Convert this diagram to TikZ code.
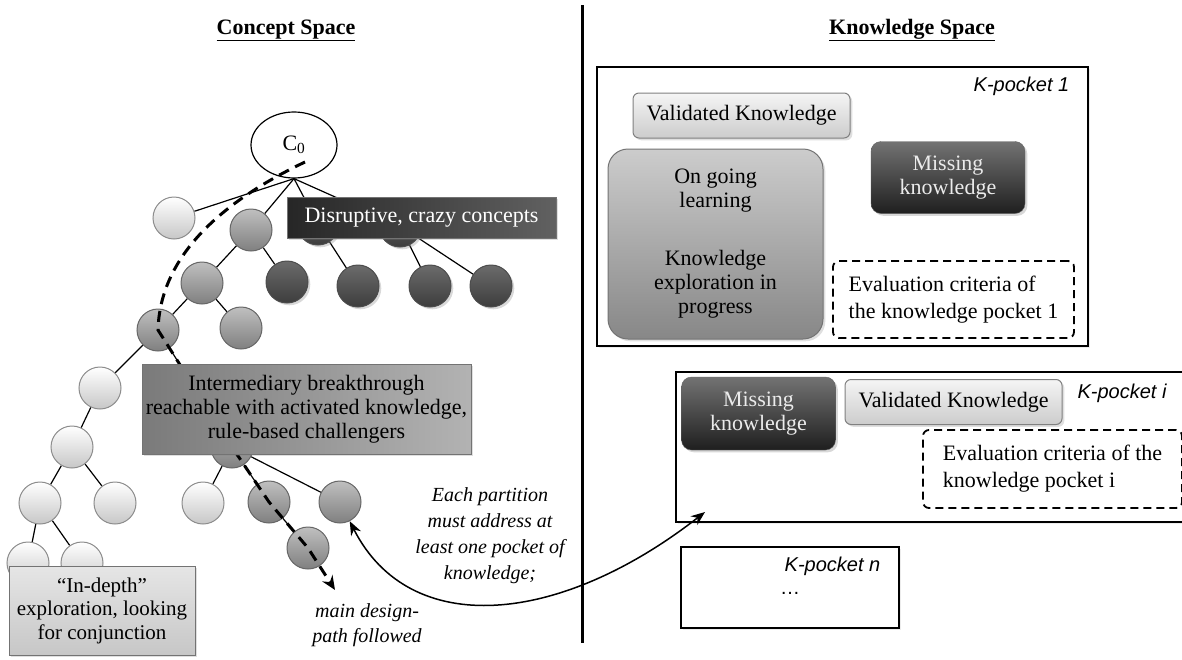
\documentclass[tikz,border=0pt]{standalone}
\usepackage{fontspec}
\setmainfont{Liberation Serif}
\newfontfamily\kfont{Liberation Sans}
\usetikzlibrary{arrows.meta,shapes.geometric,shadows,backgrounds,positioning}

\begin{document}
\begin{tikzpicture}
  [x=1pt, y=-1pt,
  every node/.style={font=\fontsize{22}{24}\selectfont},
  concept/.style={circle, line width=1pt, minimum size=42pt, inner sep=0pt},
  lightc/.style={concept, draw=black!45, top color=white, bottom color=black!22},
  grayc/.style={concept, draw=black!60, top color=black!25, bottom color=black!50},
  darkc/.style={concept, draw=black!70, top color=black!58, bottom color=black!76,
    drop shadow={opacity=0.3}},
  treeline/.style={draw, line width=1.2pt},
  mainpath/.style={draw, line width=3pt, dash pattern=on 11pt off 7pt,
    -{Stealth[length=14pt,width=12pt]}},
  note/.style={rectangle, draw=black!55, line width=1pt, align=center,
    inner xsep=3pt, drop shadow={opacity=0.25}},
  pocket/.style={rectangle, draw=black, line width=1.6pt, fill=white,
    drop shadow={opacity=0.15}},
  pocketname/.style={font=\kfont\itshape\fontsize{20}{24}\selectfont, anchor=east},
  known/.style={rectangle, rounded corners=6pt, draw=black!50, line width=1pt,
    top color=black!4, bottom color=black!20, minimum width=217pt,
    minimum height=45pt, drop shadow={opacity=0.25}},
  missing/.style={rectangle, rounded corners=10pt, draw=black!60,
    top color=black!55, bottom color=black!88, text=black!8, align=center,
    minimum width=154pt, minimum height=72pt, drop shadow={opacity=0.3}},
  criteria/.style={rectangle, rounded corners=6pt, draw, line width=1.8pt,
    dash pattern=on 8pt off 5pt, fill=white, align=left,
    font=\fontsize{22}{27}\selectfont},
  remark/.style={align=center, font=\itshape\fontsize{20}{26}\selectfont}]
  \useasboundingbox (0,0) rectangle (1182,659);

  % headings and divider
  \node[font=\bfseries\fontsize{22}{24}\selectfont, anchor=base] (cspace) at (286,34)
  {\underline{Concept Space}};
  \node[font=\bfseries\fontsize{22}{24}\selectfont, anchor=base] (kspace) at (912,34)
  {\underline{Knowledge Space}};
  \coordinate (divtop) at (582,5);
  \coordinate (divbot) at (582,643);
  \draw[line width=3pt] (divtop) -- (divbot);

  % concept tree
  \node[ellipse, draw, line width=1.2pt, fill=white, minimum width=86pt,
  minimum height=66pt] (c0) at (294,145) {C\textsubscript{0}};
  \node[lightc] (l1) at (174,218) {};
  \node[grayc] (g1) at (251,230) {};
  \node[darkc] (d1) at (318,224) {};
  \node[darkc] (d2) at (400,226) {};
  \node[grayc] (g2) at (202,283) {};
  \node[darkc] (d3) at (287,282) {};
  \node[darkc] (d4) at (358,286) {};
  \node[darkc] (d5) at (430,286) {};
  \node[darkc] (d6) at (491,286) {};
  \node[grayc] (g3) at (158,330) {};
  \node[grayc] (g4) at (241,328) {};
  \node[lightc] (l2) at (100,388) {};
  \node[grayc] (g5) at (232,447) {};
  \node[lightc] (l3) at (72,447) {};
  \node[lightc] (l4) at (40,503) {};
  \node[lightc] (l5) at (115,503) {};
  \node[lightc] (l6) at (28,563) {};
  \node[lightc] (l7) at (82,563) {};
  \node[lightc] (l8) at (203,503) {};
  \node[grayc] (g6) at (269,502) {};
  \node[grayc] (g7) at (340,502) {};
  \node[grayc] (g8) at (308,548) {};

  \begin{pgfonlayer}{background}
    \begin{scope}[every path/.style=treeline]
      \path (c0.south) -- (l1); \path (c0.south) -- (g1);
      \path (c0.south) -- (d1); \path (c0.south) -- (d2);
      \path (g1) -- (g2); \path (g1) -- (d3); \path (d1) -- (d4);
      \path (d2) -- (d5); \path (d2) -- (d6);
      \path (g2) -- (g3); \path (g2) -- (g4);
      \path (g3) -- (l2); \path (g3) -- (g5);
      \path (l2) -- (l3); \path (l3) -- (l4); \path (l3) -- (l5);
      \path (l4) -- (l6); \path (l4) -- (l7);
      \path (g5) -- (l8); \path (g5) -- (g6); \path (g5) -- (g7);
      \path (g6) -- (g8);
    \end{scope}
  \end{pgfonlayer}

  \coordinate (pathstart) at (305,162);
  \coordinate (pathend) at (335,590);
  \path[mainpath] (pathstart) .. controls (215,205) and (160,260) .. (g3.center)
  -- (g5.center) -- (g6.center) -- (g8.center) -- (pathend);

  \node[note, left color=black!85, right color=black!62, text=white,
  minimum width=269pt, minimum height=41pt] (disrupt) at (421.5,217.5)
  {Disruptive, crazy concepts};
  \node[note, left color=black!52, right color=black!30, minimum width=329pt,
  minimum height=90pt] (inter) at (306.5,409)
  {Intermediary breakthrough\\reachable with activated knowledge,\\rule-based challengers};
  \node[note, top color=black!10, bottom color=black!22, minimum width=186pt,
  minimum height=89pt, inner xsep=2pt, font=\fontsize{21}{23.5}\selectfont]
  (depth) at (102,610.5) {“In-depth”\\exploration, looking\\for conjunction};

  % knowledge pockets
  \node[pocket, minimum width=491pt, minimum height=279pt] (kp1) at (842.5,206.5) {};
  \node[pocketname] at ([xshift=-16pt, yshift=-20pt]kp1.north east) {K-pocket 1};
  \node[known] (valid1) at (741.5,115.5) {Validated Knowledge};
  \node[rectangle, rounded corners=20pt, draw=black!55, line width=1pt,
  top color=black!20, bottom color=black!47, align=center, minimum width=215pt,
  minimum height=190pt, drop shadow={opacity=0.25}] (learn1) at (715.5,244)
  {On going\\learning\\[34pt]Knowledge\\exploration in\\progress};
  \node[missing] (miss1) at (948,177.5) {Missing\\knowledge};
  \node[criteria, minimum width=241pt, minimum height=77pt] (crit1) at (953.5,299.5)
  {Evaluation criteria of\\the knowledge pocket 1};

  \node[pocket, anchor=north west, minimum width=520pt, minimum height=150pt]
  (kpi) at (675,371) {};
  \node[pocketname] at (1170,393) {K-pocket i};
  \node[missing, minimum height=73pt] (miss2) at (758.5,413.5) {Missing\\knowledge};
  \node[known] (valid2) at (953.5,402) {Validated Knowledge};
  \node[criteria, minimum width=259pt, minimum height=78pt] (crit2) at (1052.5,469)
  {Evaluation criteria of the\\knowledge pocket i};

  \node[pocket, minimum width=218pt, minimum height=81pt] (kpn) at (790,587.5) {};
  \node[pocketname] at ([xshift=-16pt, yshift=-20pt]kpn.north east) {K-pocket n};
  \node[font=\kfont\fontsize{20}{24}\selectfont] (more) at (790,593) {\dots};

  % partition link
  \coordinate (kpientry) at (705,512);
  \draw[line width=1.5pt, {Stealth[length=14pt,width=11pt]}-{Stealth[length=14pt,width=11pt]}]
  (g7) .. controls (410,640) and (560,625) .. (kpientry);
  \node[remark] (partition) at (490,536)
  {Each partition\\must address at\\least one pocket of\\knowledge;};
  \node[remark, font=\itshape\fontsize{20}{25}\selectfont] (design) at (367,625)
  {main design-\\path followed};
\end{tikzpicture}
\end{document}
